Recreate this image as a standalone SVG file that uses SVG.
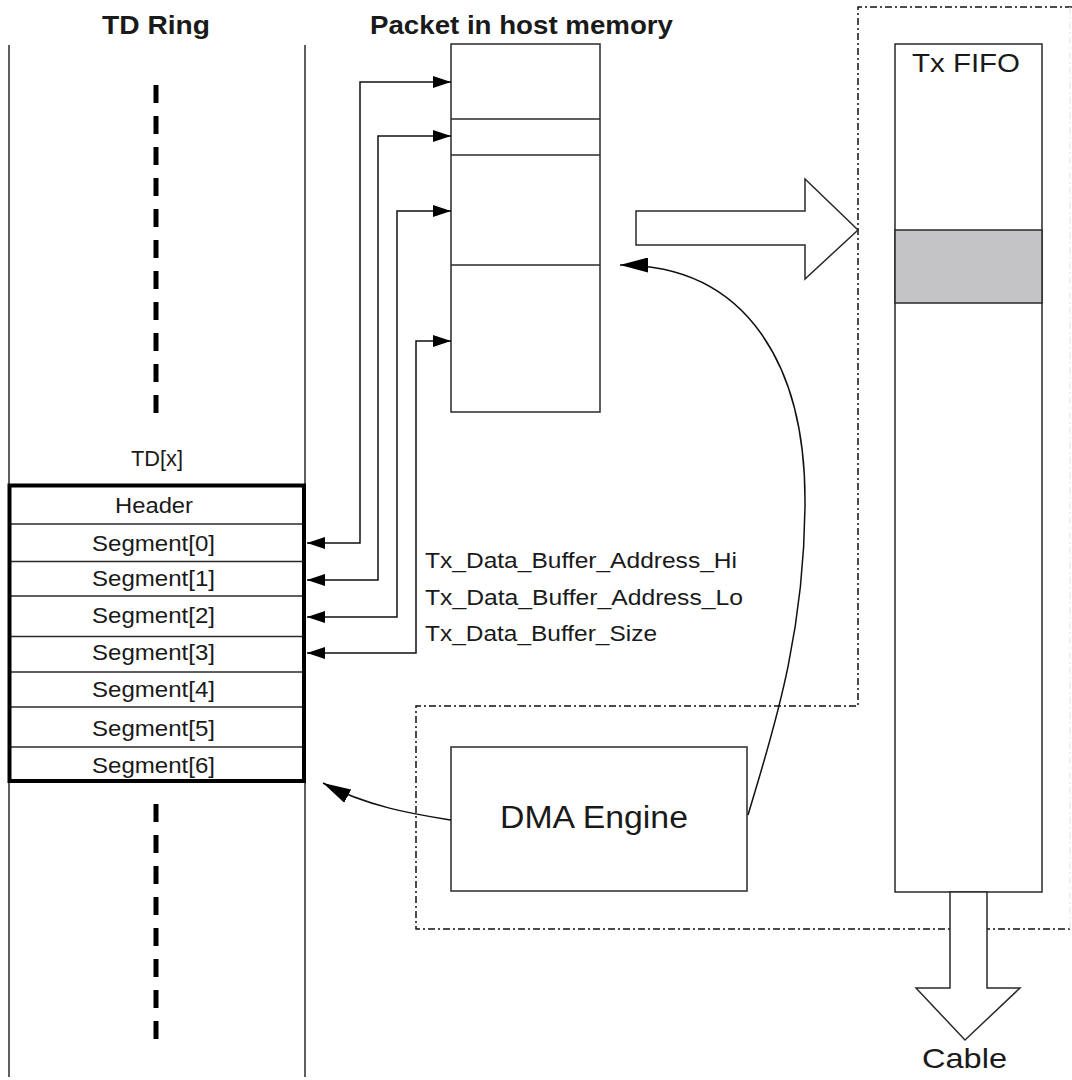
<svg xmlns="http://www.w3.org/2000/svg" width="1072" height="1080" viewBox="0 0 1072 1080">
<style>
text{font-family:"Liberation Sans",Arial,sans-serif;fill:#1a1a1a}
.hd{font-size:25px;font-weight:bold;text-anchor:start}
.cell{font-size:22px}
.lbl{font-size:22px}
.thin{fill:none;stroke:#2a2a2a;stroke-width:1.5}
.box{fill:#fff;stroke:#2a2a2a;stroke-width:1.5}
.dash{fill:none;stroke:#000;stroke-width:5;stroke-dasharray:18 13}
.dd{fill:none;stroke:#111;stroke-width:1.5;stroke-dasharray:7 3 2 3}
.conn{fill:none;stroke:#111;stroke-width:1.5}
</style>
<defs>
<marker id="ah" viewBox="0 0 18 12" refX="18" refY="6" markerWidth="18" markerHeight="12" markerUnits="userSpaceOnUse" orient="auto-start-reverse">
<path d="M0,0 L18,6 L0,12 z" fill="#000"/>
</marker>
<marker id="ahb" viewBox="0 0 28 15" refX="28" refY="7.5" markerWidth="28" markerHeight="15" markerUnits="userSpaceOnUse" orient="auto">
<path d="M0,0 L28,7.5 L0,15 z" fill="#000"/>
</marker>
</defs>

<g id="dma-region">
<path class="dd" d="M1072,7 H858 V706 H416 V929 H1072"/>
<path d="M1070,7 V929" fill="none" stroke="#e2e2e2" stroke-width="1" stroke-dasharray="7 3 2 3"/>
</g>

<g id="td-ring">
<text class="hd" x="102" y="34" textLength="108" lengthAdjust="spacingAndGlyphs">TD Ring</text>
<line class="thin" x1="9" y1="45" x2="9" y2="1077"/>
<line class="thin" x1="305" y1="45" x2="305" y2="1077"/>
<line class="dash" x1="156" y1="85" x2="156" y2="413"/>
<line class="dash" x1="156" y1="804" x2="156" y2="1043"/>
<text class="cell" x="131" y="466" textLength="52" lengthAdjust="spacingAndGlyphs">TD[x]</text>
</g>

<g id="td-x">
<rect x="9.5" y="485.5" width="294.5" height="295.5" fill="#fff" stroke="none"/>
<g class="thin">
<line x1="9" y1="524" x2="305" y2="524"/>
<line x1="9" y1="561.5" x2="305" y2="561.5"/>
<line x1="9" y1="596" x2="305" y2="596"/>
<line x1="9" y1="636.5" x2="305" y2="636.5"/>
<line x1="9" y1="672" x2="305" y2="672"/>
<line x1="9" y1="707" x2="305" y2="707"/>
<line x1="9" y1="747" x2="305" y2="747"/>
</g>
<rect x="9.5" y="485.5" width="294.5" height="295.5" fill="none" stroke="#000" stroke-width="4"/>
<text class="cell" x="115" y="513" textLength="78" lengthAdjust="spacingAndGlyphs">Header</text>
<text class="cell" x="92" y="551" textLength="123" lengthAdjust="spacingAndGlyphs">Segment[0]</text>
<text class="cell" x="92" y="586" textLength="123" lengthAdjust="spacingAndGlyphs">Segment[1]</text>
<text class="cell" x="92" y="623" textLength="123" lengthAdjust="spacingAndGlyphs">Segment[2]</text>
<text class="cell" x="92" y="660" textLength="123" lengthAdjust="spacingAndGlyphs">Segment[3]</text>
<text class="cell" x="92" y="697" textLength="123" lengthAdjust="spacingAndGlyphs">Segment[4]</text>
<text class="cell" x="92" y="736" textLength="123" lengthAdjust="spacingAndGlyphs">Segment[5]</text>
<text class="cell" x="92" y="773" textLength="123" lengthAdjust="spacingAndGlyphs">Segment[6]</text>
</g>

<g id="packet">
<text class="hd" x="370" y="34" textLength="303" lengthAdjust="spacingAndGlyphs">Packet in host memory</text>
<rect class="box" x="451" y="44" width="149" height="368"/>
<g class="thin">
<line x1="451" y1="119" x2="600" y2="119"/>
<line x1="451" y1="155" x2="600" y2="155"/>
<line x1="451" y1="265" x2="600" y2="265"/>
</g>
</g>

<g id="tx-fifo">
<rect class="box" x="895" y="44" width="147" height="848"/>
<rect x="895" y="230" width="147" height="73" fill="#c4c3c6" stroke="#2a2a2a" stroke-width="1.5"/>
<text x="912" y="72" font-size="26" textLength="108" lengthAdjust="spacingAndGlyphs">Tx FIFO</text>
</g>

<g id="dma-engine">
<rect class="box" x="451" y="747" width="296" height="144"/>
<text x="500" y="828" font-size="31" textLength="188" lengthAdjust="spacingAndGlyphs">DMA Engine</text>
</g>

<g id="labels">
<text class="lbl" x="425" y="568" textLength="312" lengthAdjust="spacingAndGlyphs">Tx_Data_Buffer_Address_Hi</text>
<text class="lbl" x="425" y="605" textLength="318" lengthAdjust="spacingAndGlyphs">Tx_Data_Buffer_Address_Lo</text>
<text class="lbl" x="425" y="641" textLength="232" lengthAdjust="spacingAndGlyphs">Tx_Data_Buffer_Size</text>
</g>

<g id="connectors">
<path class="conn" d="M307,543 H360 V82 H451" marker-start="url(#ah)" marker-end="url(#ah)"/>
<path class="conn" d="M307,580 H378 V136 H451" marker-start="url(#ah)" marker-end="url(#ah)"/>
<path class="conn" d="M307,617 H397 V211 H451" marker-start="url(#ah)" marker-end="url(#ah)"/>
<path class="conn" d="M307,653 H416 V341 H451" marker-start="url(#ah)" marker-end="url(#ah)"/>
<path class="conn" d="M748,815 C770,740 805,640 805,500 C805,370 750,265 620,265" marker-end="url(#ahb)"/>
<path class="conn" d="M451,820 C420,815 370,808 323,783" marker-end="url(#ahb)"/>
<polygon points="636,211 805,211 805,179 858,230 805,279 805,245 636,245" fill="#fff" stroke="#2a2a2a" stroke-width="1.5"/>
<polygon points="950,892 950,988 916,988 965,1040 1020,988 987,988 987,892" fill="#fff" stroke="#2a2a2a" stroke-width="1.5"/>
</g>

<g id="cable">
<text x="922" y="1068" font-size="28" textLength="85" lengthAdjust="spacingAndGlyphs">Cable</text>
</g>
</svg>
